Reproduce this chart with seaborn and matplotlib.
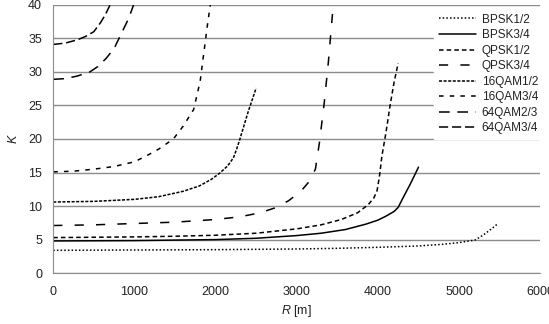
import numpy as np
import pandas as pd
import matplotlib
matplotlib.use("Agg")
import matplotlib.pyplot as plt
import seaborn as sns

sns.set_style("white")
plt.rcParams['font.family'] = ['Liberation Sans', 'DejaVu Sans']
plt.rcParams['mathtext.fontset'] = 'custom'
plt.rcParams['mathtext.it'] = 'Liberation Sans:italic'
plt.rcParams['mathtext.rm'] = 'Liberation Sans'

# values (R in m, K)
bpsk12_r = [0, 1000, 2000, 3000, 3500, 4000, 4500, 4800, 5000, 5200, 5300, 5400, 5480]
bpsk12_k = [3.4, 3.45, 3.5, 3.6, 3.7, 3.85, 4.05, 4.3, 4.55, 4.95, 5.7, 6.6, 7.4]
bpsk34_r = [0, 1000, 2000, 2500, 3000, 3300, 3600, 3850, 4000, 4100, 4200, 4250, 4300, 4400, 4500]
bpsk34_k = [4.8, 4.85, 5.0, 5.2, 5.6, 5.95, 6.5, 7.3, 7.9, 8.5, 9.2, 9.8, 11.0, 13.3, 15.8]
qpsk12_r = [0, 500, 1000, 1500, 2000, 2500, 3000, 3300, 3550, 3750, 3880, 3950, 3990,
            4020, 4050, 4100, 4150, 4200, 4250]
qpsk12_k = [5.3, 5.35, 5.4, 5.5, 5.65, 5.95, 6.6, 7.2, 8.0, 9.0, 10.2, 11.2, 12.3,
            14.5, 17.5, 21, 25, 28.5, 31.3]
qpsk34_r = [0, 500, 1000, 1500, 2000, 2300, 2550, 2750, 2900, 3050, 3150, 3230, 3280,
            3340, 3390, 3450]
qpsk34_k = [7.1, 7.2, 7.4, 7.6, 8.0, 8.4, 9.0, 9.8, 10.8, 12.2, 13.6, 15.5, 19.5,
            25.5, 31.5, 40]
qam16_12_r = [0, 500, 1000, 1300, 1600, 1800, 1950, 2050, 2150, 2220, 2260, 2300, 2400, 2500]
qam16_12_k = [10.6, 10.7, 11.0, 11.4, 12.2, 13.0, 14.0, 14.9, 16.0, 17.2, 18.5, 20.0, 24.0, 27.6]
qam16_34_r = [0, 250, 500, 750, 1000, 1150, 1300, 1480, 1600, 1730, 1810, 1860, 1900, 1935]
qam16_34_k = [15.1, 15.2, 15.5, 15.9, 16.6, 17.5, 18.5, 20.0, 21.9, 24.4, 28.6, 33.3, 37, 40]
qam64_23_r = [0, 150, 300, 450, 550, 650, 750, 850, 930, 990]
qam64_23_k = [28.9, 29.0, 29.4, 30.0, 30.8, 32.0, 33.5, 36.0, 38.0, 40.0]
qam64_34_r = [0, 150, 300, 400, 500, 580, 640, 700]
qam64_34_k = [34.1, 34.3, 34.8, 35.3, 36.0, 37.3, 38.5, 40]

labels = ["BPSK1/2", "BPSK3/4", "QPSK1/2", "QPSK3/4",
          "16QAM1/2", "16QAM3/4", "64QAM2/3", "64QAM3/4"]
series = [(bpsk12_r, bpsk12_k), (bpsk34_r, bpsk34_k), (qpsk12_r, qpsk12_k),
          (qpsk34_r, qpsk34_k), (qam16_12_r, qam16_12_k), (qam16_34_r, qam16_34_k),
          (qam64_23_r, qam64_23_k), (qam64_34_r, qam64_34_k)]
styles = [(0, (1, 1.4)), '-', (0, (3, 2)), (0, (6, 8)),
          (0, (2, 1)), (0, (3, 4)), (0, (7, 5)), (0, (6, 2.5))]

fig, ax = plt.subplots(figsize=(5.49, 3.24), dpi=100)
fig.subplots_adjust(left=0.097, right=0.984, bottom=0.157, top=0.985)

for (r, k), lab, ls in zip(series, labels, styles):
    sns.lineplot(x=r, y=k, ax=ax, color='black', lw=1.1, linestyle=ls,
                 label=lab, estimator=None)

ax.set_xlim(0, 6000)
ax.set_ylim(0, 40)
ax.set_xticks(np.arange(0, 6001, 1000))
ax.set_yticks(np.arange(0, 41, 5))
ax.yaxis.grid(True, color='#8c8c8c', lw=1)
ax.set_axisbelow(True)
for s in ['top', 'right']:
    ax.spines[s].set_visible(False)
for s in ['left', 'bottom']:
    ax.spines[s].set_color('#8c8c8c')
ax.tick_params(axis='both', direction='out', length=4, color='#8c8c8c',
               labelsize=9, labelcolor='#222222')
ax.tick_params(axis='x', pad=5)
ax.tick_params(axis='y', pad=4)
ax.set_xlabel('$\\it{R}$ [m]', fontsize=9, color='#222222', labelpad=4)
ax.set_ylabel('$\\it{K}$', fontsize=9, color='#222222', labelpad=6)

leg = ax.legend(loc='upper right', bbox_to_anchor=(0.993, 0.98),
                bbox_transform=fig.transFigure, fontsize=8.5, frameon=True,
                facecolor='white', edgecolor='white', framealpha=1,
                handlelength=3.2, labelspacing=0.3, handletextpad=0.45,
                borderaxespad=0.2, borderpad=0.4, fancybox=False)
for t in leg.get_texts():
    t.set_color('#222222')

fig.savefig("out.png", dpi=100)
